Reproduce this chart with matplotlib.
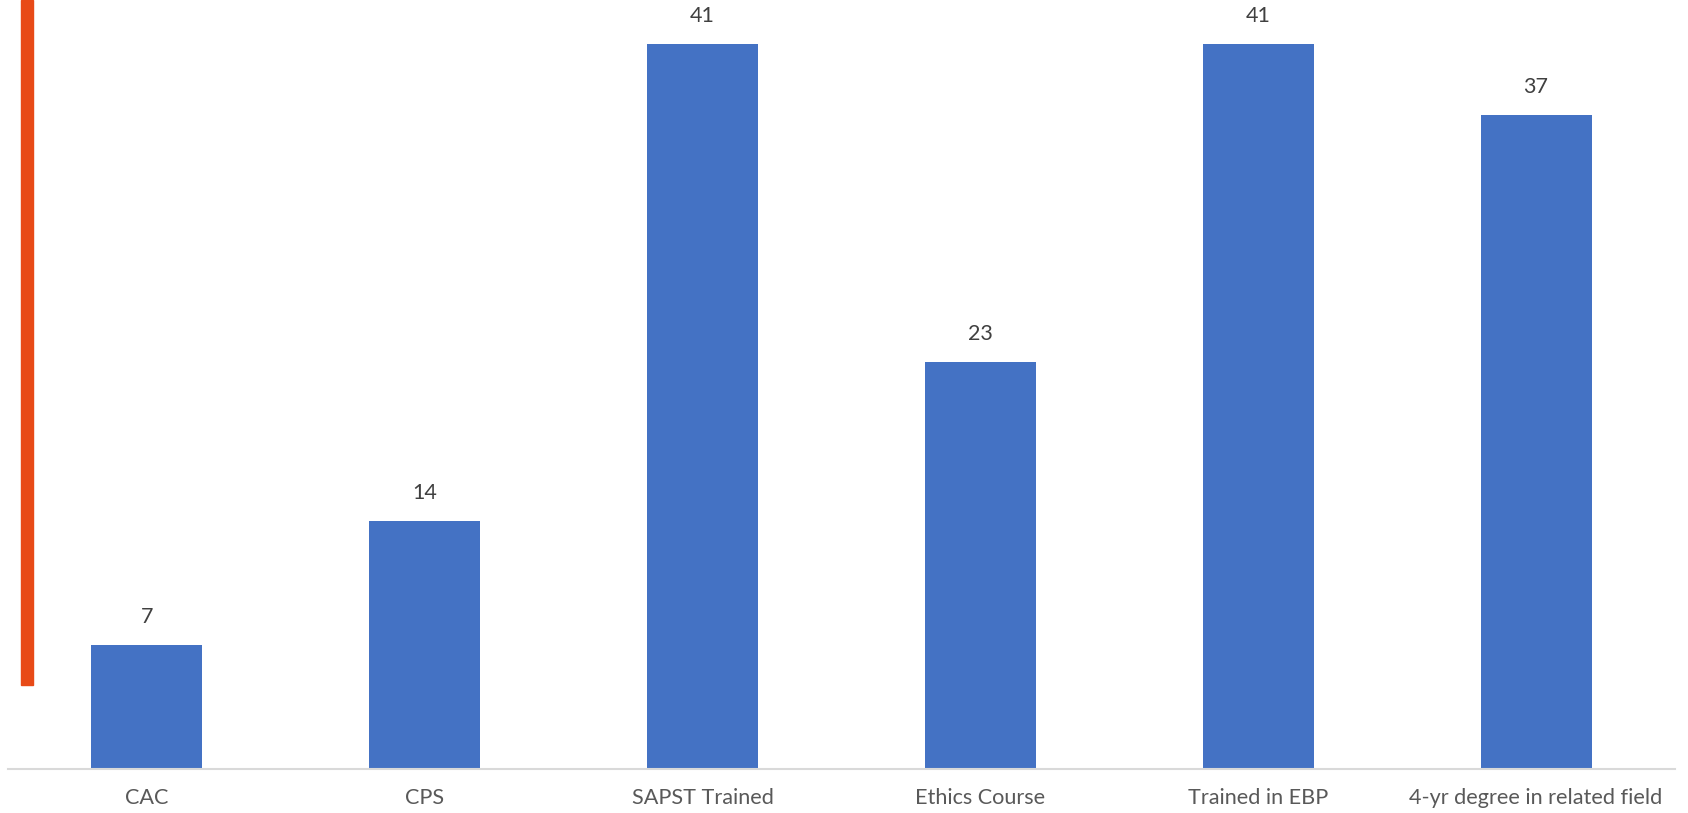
import matplotlib
matplotlib.use("Agg")
import matplotlib.pyplot as plt
from matplotlib.patches import Rectangle

categories = ["CAC", "CPS", "SAPST Trained", "Ethics Course", "Trained in EBP", "4-yr degree in related field"]
values = [7, 14, 41, 23, 41, 37]

W, H = 1688, 813
fig = plt.figure(figsize=(W / 100, H / 100), dpi=100)
fig.patch.set_facecolor("white")

# axes: x 8..1675 px, baseline at y=769 px
left, right = 8, 1675
base = 769
ppu = 17.68
ax = fig.add_axes([left / W, (H - base) / H, (right - left) / W, base / H])
ax.set_xlim(-0.5, len(categories) - 0.5)
ax.set_ylim(0, base / ppu)

x = list(range(len(categories)))
bars = ax.bar(x, values, width=0.4, color="#4472C4", zorder=2)
for xi, v in zip(x, values):
    ax.annotate(str(v), (xi, v), xytext=(0, 18), textcoords="offset pixels",
                ha="center", va="bottom", fontsize=15.5, color="#404040", family="Lato")

for s in ["top", "right", "left"]:
    ax.spines[s].set_visible(False)
ax.spines["bottom"].set_color("#D9D9D9")
ax.spines["bottom"].set_linewidth(1.5)
ax.set_yticks([])
ax.set_xticks(x)
ax.set_xticklabels(categories, fontsize=15.6, color="#595959", family="Lato")
ax.tick_params(axis="x", length=0, pad=14)

# orange decorative bar on left
fig.patches.append(Rectangle((21 / W, (H - 685) / H), 12 / W, 685 / H,
                             transform=fig.transFigure, color="#E84A17", zorder=5))

fig.savefig("out.png", dpi=100)
